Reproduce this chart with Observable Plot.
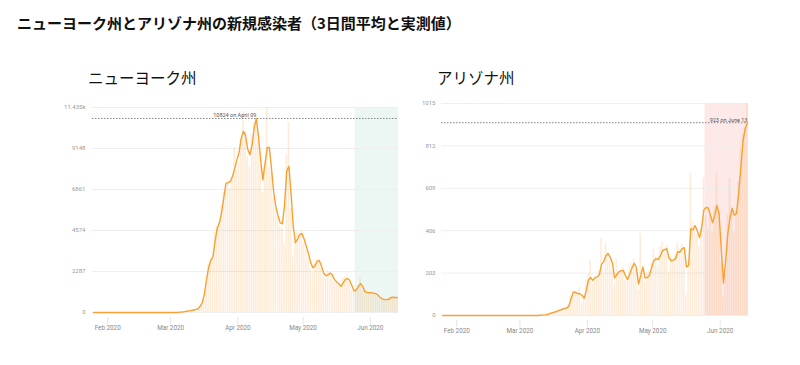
<!DOCTYPE html>
<html><head><meta charset="utf-8">
<script src="https://cdn.jsdelivr.net/npm/d3@7"></script>
<script src="https://cdn.jsdelivr.net/npm/@observablehq/plot@0.6"></script>
<style>
body{margin:0;background:#fff;width:800px;height:365px;position:relative;overflow:hidden;font-family:"Noto Sans CJK JP",sans-serif;}
#title{position:absolute;left:17px;top:12px;font-size:15px;font-weight:bold;color:#111;white-space:nowrap;}
.ptitle{position:absolute;top:66px;font-size:15.5px;color:#111;white-space:nowrap;}
.panel{position:absolute;top:95px;}
</style></head>
<body>
<div id="title">ニューヨーク州とアリゾナ州の新規感染者（3日間平均と実測値）</div>
<div class="ptitle" style="left:88px">ニューヨーク州</div>
<div class="ptitle" style="left:437px">アリゾナ州</div>
<div class="panel" id="ny" style="left:0px"></div>
<div class="panel" id="az" style="left:400px"></div>
<script>
const startDate = "2020-01-25";
const endDate = "2020-06-14";
const phaseStart = "2020-05-25";
const monthTicks = ["2020-02-01","2020-03-01","2020-04-01","2020-05-01","2020-06-01"];

const nyTicks = [0, 2287, 4574, 6861, 9148, 11435];
const nyTickLabels = ["0","2287","4574","6861","9148","11.435k"];
const azTicks = [0, 203, 406, 609, 812, 1015];
const azTickLabels = ["0","203","406","609","812","1015"];

const nyPeakLabel = "10824 on April 09";
const nyPeakDate = "2020-04-09";
const azPeakLabel = "923 on June 13";
const azPeakDate = "2020-06-13";

// New York: 3-day average, one value per day from Jan 25
const nyAvg = [
0,0,0,0,0,0,0,0,0,0, 0,0,0,0,0,0,0,0,0,0,
0,0,0,0,0,0,0,0,0,0, 0,0,0,0,0,0,0,0,3,7,
20,30,50,70,90,110,140,170,200,330, 520,1000,1800,2500,2900,3100,4000,4700,5000,5600,
6400,7200,7250,7300,7600,8000,8500,8900,9700,10100, 9900,9100,8800,9300,10300,10824,9800,8500,7400,8300,
9200,9200,8000,6700,5900,5400,5000,4950,6000,7900, 8150,6600,4800,3900,4100,4350,4400,4100,3700,3300,
2800,2500,2600,2850,2900,2600,2200,2050,2100,2200, 2100,1850,1700,1600,1450,1650,1840,1900,1800,1500,
1200,1250,1450,1620,1450,1150,1120,1100,1100,1080, 1050,980,850,760,720,720,740,820,850,840,
830];
// New York: reported daily cases
const nyDaily = [
0,0,0,0,0,0,0,0,0,0, 0,0,0,0,0,0,0,0,0,0,
0,0,0,0,0,0,0,0,0,0, 0,0,0,0,0,0,1,0,9,11,
22,33,44,70,95,105,120,160,210,250, 480,900,1700,2700,3000,2900,4500,4800,4900,5900,
6700,7100,7300,6900,7600,9200,7900,8300,9700,11200, 10100,8700,8100,9900,10600,10800,9700,8200,6700,8400,
11435,8100,7800,6400,5700,5300,4800,4700,3800,8800, 10600,5800,3100,3900,4500,4300,4600,3900,3500,3000,
2400,2200,2700,3000,2800,2500,2000,1900,2300,2200, 2000,1700,1600,1500,1300,1900,2000,1800,1700,1200,
1100,1300,1500,1900,1200,1000,1200,1100,1000,1100, 1000,900,800,700,750,700,800,900,850,800,
850];

// Arizona: 3-day average
const azAvg = [
0,0,0,0,0,0,0,0,0,0, 0,0,0,0,0,0,0,0,0,0,
0,0,0,0,0,0,0,0,0,0, 0,0,0,0,0,0,0,0,0,0,
0,0,0,0,0,1,2,3,5,8, 12,15,18,22,26,30,33,36,45,80,
110,112,105,104,97,82,120,170,182,168, 180,185,195,245,258,285,297,278,252,180,
195,210,214,216,190,172,200,228,250,230, 150,190,232,180,182,192,228,262,272,268,
285,310,315,320,275,262,265,272,305,303, 320,325,232,240,415,410,430,405,373,420,
505,517,515,480,445,478,527,485,315,155, 260,392,469,512,480,490,585,710,838,895,
923];
// Arizona: reported daily cases
const azDaily = [
0,1,0,0,0,0,0,0,0,0, 0,0,0,0,0,0,0,0,0,0,
0,0,0,0,0,0,0,0,0,0, 0,0,0,0,0,0,0,0,0,0,
0,0,0,0,0,1,3,2,6,9, 12,17,20,25,28,31,35,40,55,95,
120,115,100,135,60,90,165,200,265,150, 190,180,215,370,200,345,300,260,220,150,
270,205,220,230,170,160,240,250,270,220, 120,392,190,160,200,210,250,316,280,240,
330,350,300,330,210,280,260,290,350,320, 340,300,96,240,680,450,400,390,330,440,
660,480,410,480,400,520,680,500,250,86, 200,480,656,520,400,500,640,800,870,900,
1015];

const dayMs = 86400000;
const t0 = new Date(startDate + "T00:00:00Z");
function rows(avg, daily) {
  return avg.map((v, i) => {
    const d = new Date(t0.getTime() + i * dayMs);
    return {date: d, next: new Date(d.getTime() + dayMs), mid: new Date(d.getTime() + dayMs / 2), avg: v, daily: daily[i]};
  });
}
const fmtMonth = d3.utcFormat("%b %Y");
const lineColor = "#f7a134";

function panel(el, data, cfg) {
  const xd = [new Date(startDate + "T00:00:00Z"), new Date(endDate + "T00:00:00Z")];
  const peak = d3.max(data, d => d.avg);
  const peakX = new Date(new Date(cfg.peakDate + "T00:00:00Z").getTime() + dayMs / 2);
  const chart = Plot.plot({
    width: cfg.width, height: 240,
    marginLeft: cfg.ml, marginRight: 2, marginTop: cfg.mt, marginBottom: cfg.mb,
    style: {fontFamily: "Roboto, sans-serif", background: "transparent"},
    x: {type: "utc", domain: xd},
    y: {domain: [0, cfg.ticks[cfg.ticks.length - 1]]},
    marks: [
      Plot.rect([{x1: new Date(phaseStart + "T00:00:00Z"), x2: xd[1]}], {x1: "x1", x2: "x2", y1: 0, y2: cfg.ticks[cfg.ticks.length - 1], fill: cfg.shade}),
      Plot.ruleY(cfg.ticks, {stroke: "#eeeeee", strokeWidth: 1}),
      Plot.rectY(data, {x1: "date", x2: "next", y: "daily", fill: "#f8a445", fillOpacity: 0.21, insetLeft: 0.3, insetRight: 0.3, clip: true}),
      Plot.ruleY([peak], {stroke: "#777", strokeDasharray: "1.5,1.5", strokeWidth: 0.9}),
      Plot.text([{x: peakX, y: peak, t: cfg.peakLabel}], {x: "x", y: "y", text: "t", textAnchor: "end", lineAnchor: "bottom", dy: -1, fontSize: 5.5, fill: "#555"}),
      Plot.line(data, {x: "mid", y: "avg", stroke: lineColor, strokeWidth: 1.4}),
      Plot.axisY(cfg.ticks, {tickSize: 0, tickPadding: cfg.tp, fontSize: 6, fill: "#999", tickFormat: (d, i) => cfg.labels[i], label: null}),
      Plot.axisX(monthTicks.map(s => new Date(s + "T00:00:00Z")), {tickSize: 7, tickPadding: 1, dy: 5, stroke: "#e4e4e4", fontSize: 6.3, fill: "#888", tickFormat: fmtMonth, label: null})
    ]
  });
  document.getElementById(el).appendChild(chart);
}

panel("ny", rows(nyAvg, nyDaily), {width: 400, ml: 92, mt: 12, mb: 23, tp: 7, ticks: nyTicks, labels: nyTickLabels, shade: "#ecf6f3", peakLabel: nyPeakLabel, peakDate: nyPeakDate});
panel("az", rows(azAvg, azDaily), {width: 350, ml: 41, mt: 8, mb: 20, tp: 6, ticks: azTicks, labels: azTickLabels, shade: "#fce9e8", peakLabel: azPeakLabel, peakDate: azPeakDate});
</script>
</body></html>
